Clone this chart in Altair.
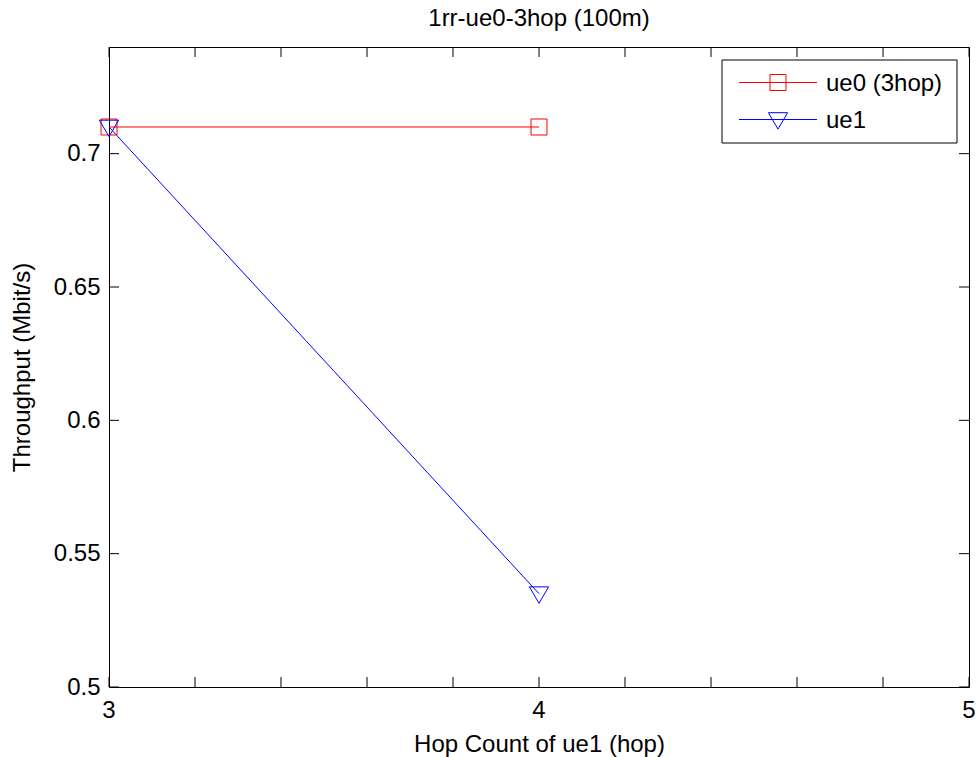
import altair as alt
import pandas as pd

# Throughput of the two UEs against the hop count of ue1
hops = [3, 4]
ue0_throughput = [0.71, 0.71]
ue1_throughput = [0.71, 0.535]
series_names = ["ue0 (3hop)", "ue1"]
series_colors = ["#ff0000", "#0000ff"]
chart_title = "1rr-ue0-3hop (100m)"

x_label_values = [3, 4, 5]
x_label_texts = ["3", "4", "5"]
x_tick_values = [3.0, 3.2, 3.4, 3.6, 3.8, 4.0, 4.2, 4.4, 4.6, 4.8, 5.0]
y_tick_values = [0.5, 0.55, 0.6, 0.65, 0.7]

FONT = "Liberation Sans"
FS = 24
W, H = 860, 640
TICK = 10

# marker paths (unit box scaled by sqrt(size)/2)
SQUARE = "M-1,-1L1,-1L1,1L-1,1Z"
TRIANGLE = "M-1.2,-0.85L1.2,-0.85L0,1.2Z"
series_shapes = [SQUARE, TRIANGLE]

rows = []
for name, vals in zip(series_names, [ue0_throughput, ue1_throughput]):
    for h, v in zip(hops, vals):
        rows.append({"hop": h, "throughput": v, "series": name})
df = pd.DataFrame(rows)

x_scale = alt.Scale(domain=[3, 5], nice=False, zero=False)
y_scale = alt.Scale(domain=[0.5, 0.74], nice=False, zero=False)

# x labels are drawn by a text layer below the frame, the axis keeps the title
x_axis = alt.Axis(
    values=x_label_values,
    labels=False,
    ticks=False,
    domain=False,
    grid=False,
    titleX=W / 2,
    titleY=64,
    titleAlign="center",
    titleBaseline="alphabetic",
)
y_axis = alt.Axis(
    values=y_tick_values,
    format=".2~f",
    ticks=False,
    domain=False,
    grid=False,
    labelPadding=9,
    labelFlush=False,
    labelOverlap=False,
    titleX=-87,
    titleY=H / 2,
    titleAngle=270,
    titleAlign="center",
    titleBaseline="middle",
)
x_enc = alt.X("hop:Q", scale=x_scale, title="Hop Count of ue1 (hop)", axis=x_axis)
y_enc = alt.Y("throughput:Q", scale=y_scale, title="Throughput (Mbit/s)", axis=y_axis)

color_scale = alt.Scale(domain=series_names, range=series_colors)
color_enc = alt.Color("series:N", scale=color_scale, legend=None)

lines = alt.Chart(df).mark_line(strokeWidth=1).encode(x=x_enc, y=y_enc, color=color_enc)

points = alt.Chart(df).mark_point(filled=False, strokeWidth=1, size=256, opacity=1).encode(
    x=x_enc,
    y=y_enc,
    color=color_enc,
    shape=alt.Shape(
        "series:N",
        scale=alt.Scale(domain=series_names, range=series_shapes),
        legend=None,
    ),
)

# inward tick marks on all four sides of the frame
xt = pd.DataFrame({"hop": x_tick_values})
yt = pd.DataFrame({"throughput": y_tick_values})

bottom_ticks = alt.Chart(xt).mark_rule(color="black", strokeWidth=1).encode(
    x=x_enc, y=alt.value(H), y2=alt.value(H - TICK)
)
top_ticks = alt.Chart(xt).mark_rule(color="black", strokeWidth=1).encode(
    x=x_enc, y=alt.value(0), y2=alt.value(TICK)
)
left_ticks = alt.Chart(yt).mark_rule(color="black", strokeWidth=1).encode(
    y=y_enc, x=alt.value(0), x2=alt.value(TICK)
)
right_ticks = alt.Chart(yt).mark_rule(color="black", strokeWidth=1).encode(
    y=y_enc, x=alt.value(W - TICK), x2=alt.value(W)
)

# x tick labels placed through the x scale
xl = pd.DataFrame({"hop": x_label_values, "label": x_label_texts})
x_labels = alt.Chart(xl).mark_text(
    align="center", baseline="top", font=FONT, fontSize=FS, color="black"
).encode(x=x_enc, y=alt.value(H + 12), text="label:N")

one = pd.DataFrame({"k": [0]})

# title above the frame
title_text = alt.Chart(one).mark_text(
    align="center", baseline="alphabetic", font=FONT, fontSize=FS, color="black"
).encode(x=alt.value(W / 2), y=alt.value(-21), text=alt.value(chart_title))

# boxed legend in the upper right corner: line sample, marker, label
LEG_X0, LEG_X1, LEG_Y0, LEG_Y1 = 613, 848, 13, 96
legend_layers = [
    alt.Chart(one).mark_rect(fill="white", stroke="black", strokeWidth=1).encode(
        x=alt.value(LEG_X0), x2=alt.value(LEG_X1), y=alt.value(LEG_Y0), y2=alt.value(LEG_Y1)
    )
]
for i, (name, col, shp) in enumerate(zip(series_names, series_colors, series_shapes)):
    ry = 35.5 + 37 * i
    legend_layers.append(
        alt.Chart(one).mark_rule(color=col, strokeWidth=1).encode(
            x=alt.value(630), x2=alt.value(708), y=alt.value(ry)
        )
    )
    legend_layers.append(
        alt.Chart(one).mark_point(shape=shp, size=256, filled=False, color=col, strokeWidth=1, opacity=1).encode(
            x=alt.value(669), y=alt.value(ry)
        )
    )
    legend_layers.append(
        alt.Chart(one).mark_text(
            align="left", baseline="middle", font=FONT, fontSize=FS, color="black"
        ).encode(x=alt.value(717), y=alt.value(ry + 1), text=alt.value(name))
    )

chart = (
    alt.layer(
        lines, points, bottom_ticks, top_ticks, left_ticks, right_ticks,
        x_labels, title_text, *legend_layers
    )
    .properties(
        width=W,
        height=H,
        padding={"left": 109, "top": 47, "right": 8, "bottom": 70},
        autosize=alt.AutoSizeParams(type="none"),
        background="white",
    )
    .configure_view(stroke="black", strokeWidth=1)
    .configure_axis(
        labelFont=FONT,
        labelFontSize=FS,
        labelColor="black",
        titleFont=FONT,
        titleFontSize=FS,
        titleFontWeight="normal",
        titleColor="black",
    )
)

chart.save("out.html", embed_options={"renderer": "svg", "actions": False})
